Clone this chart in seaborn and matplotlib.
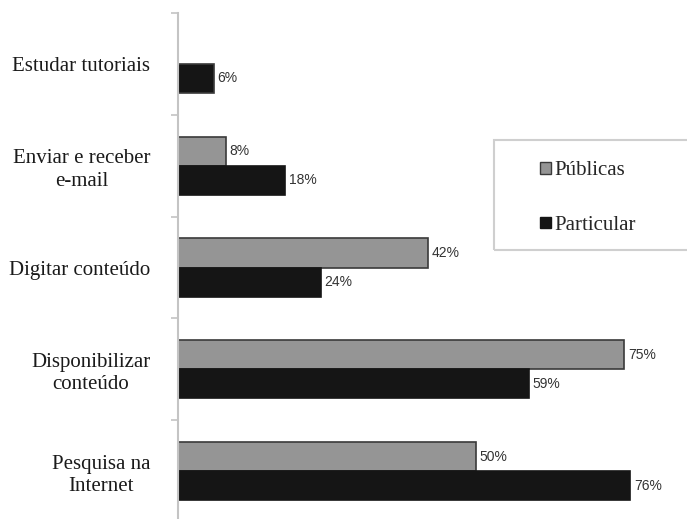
import matplotlib
matplotlib.use("Agg")
import matplotlib.pyplot as plt
import seaborn as sns
import pandas as pd
import numpy as np
from matplotlib.patches import Rectangle

categories = ["Estudar tutoriais", "Enviar e receber\ne-mail", "Digitar conteúdo",
              "Disponibilizar\nconteúdo", "Pesquisa na\nInternet"]
publicas = [np.nan, 8, 42, 75, 50]
particular = [6, 18, 24, 59, 76]
series = ["Públicas", "Particular"]

df = pd.DataFrame({
    "cat": categories * 2,
    "val": publicas + particular,
    "serie": [series[0]] * 5 + [series[1]] * 5,
})

sns.set_style("white")
plt.rcParams["font.family"] = ["Liberation Serif", "DejaVu Serif"]

fig = plt.figure(figsize=(6.87, 5.19), dpi=100)
ax = fig.add_axes([178 / 687, -3 / 519, 506 / 687, 509 / 519])

palette = {"Públicas": "#959595", "Particular": "#151515"}
sns.barplot(data=df, y="cat", x="val", hue="serie", order=categories,
            hue_order=series, palette=palette, orient="h", width=0.57,
            ax=ax, legend=False, saturation=1, errorbar=None)

for p, s in zip(ax.patches, [series[0]] * 5 + [series[1]] * 5):
    p.set_edgecolor("#3a3a3a" if s == "Públicas" else "#151515")
    p.set_linewidth(1.2)

for cont in ax.containers:
    labels = ["" if np.isnan(v) else f"{v:.0f}%" for v in cont.datavalues]
    ax.bar_label(cont, labels=labels, padding=2.5, fontsize=10,
                 family="Liberation Sans", color="#333333")

ax.set_xlim(0, 85)
ax.set_ylim(4.5, -0.5)
ax.set_xlabel("")
ax.set_ylabel("")
ax.set_xticks([])
for s in ["top", "right", "bottom"]:
    ax.spines[s].set_visible(False)
ax.spines["left"].set_color("#c4c4c4")
ax.spines["left"].set_linewidth(1.5)

ax.set_yticks(range(len(categories)))
ax.set_yticklabels(categories, fontsize=15, color="#1a1a1a",
                   multialignment="center", linespacing=1.25)
ax.tick_params(axis="y", which="major", length=0, pad=20)
ax.set_yticks([-0.5, 0.5, 1.5, 2.5, 3.5], minor=True)
ax.tick_params(axis="y", which="minor", left=True, length=5, width=1.2,
               color="#c4c4c4", direction="out")

# legend
handles = [Rectangle((0, 0), 1, 1, facecolor=palette[s],
                     edgecolor="#3a3a3a" if s == "Públicas" else "#151515",
                     linewidth=1) for s in series]
fig.legend(handles, series, loc="upper left",
           bbox_to_anchor=(530 / 687, 1 - 151 / 519), frameon=False,
           fontsize=15, handlelength=0.5, handleheight=0.5,
           handletextpad=0.15, labelspacing=1.7, borderpad=0)
fig.patches.append(Rectangle((494 / 687, 1 - 250 / 519), 0.4, 110 / 519,
                             transform=fig.transFigure, fill=False,
                             edgecolor="#cfcfcf", linewidth=1.5))

fig.savefig("out.png", dpi=100)
